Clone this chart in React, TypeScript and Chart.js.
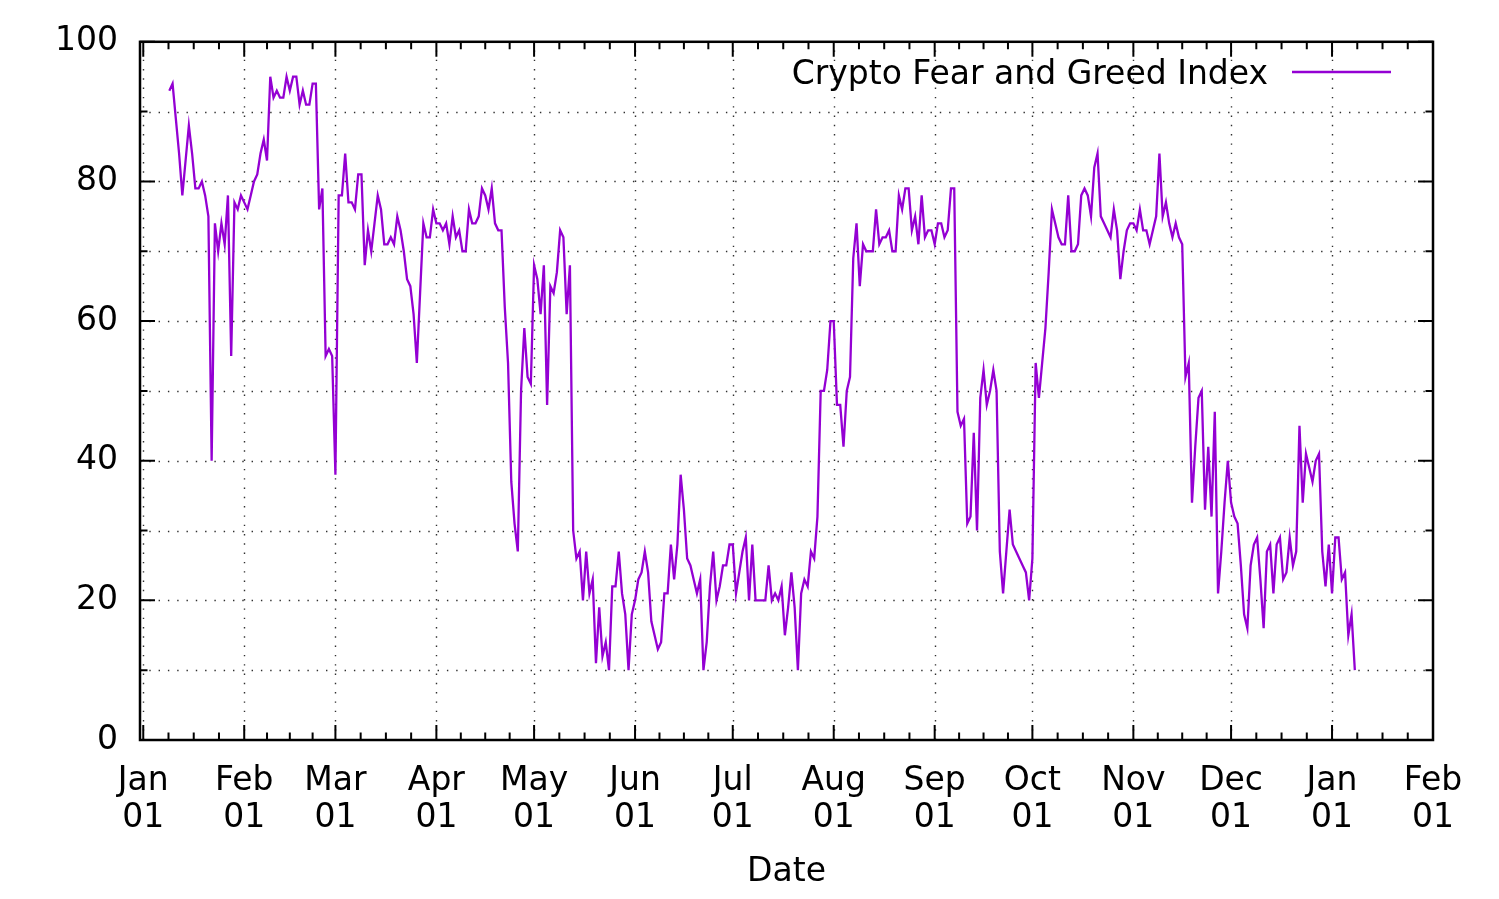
import React, { useEffect, useRef } from "react";
import { Chart, registerables } from "chart.js";

Chart.register(...registerables);

// Day index counted from Jan 01 (0). First reading is Jan 09.
const startDay = 8;
const fearGreed: number[] = [
  93, 94, 89, 84, 78, 83, 88, 84, 79, 79,
  80, 78, 75, 40, 74, 70, 74, 71, 78, 55,
  77, 76, 78, 77, 76, 78, 80, 81, 84, 86,
  83, 95, 92, 93, 92, 92, 95, 93, 95, 95,
  91, 93, 91, 91, 94, 94, 76, 79, 55, 56,
  55, 38, 78, 78, 84, 77, 77, 76, 81, 81,
  68, 73, 70, 74, 78, 76, 71, 71, 72, 71,
  75, 73, 70, 66, 65, 61, 54, 64, 74, 72,
  72, 76, 74, 74, 73, 74, 71, 75, 72, 73,
  70, 70, 76, 74, 74, 75, 79, 78, 76, 79,
  74, 73, 73, 62, 54, 37, 31, 27, 50, 59,
  52, 51, 68, 66, 61, 68, 48, 65, 64, 67,
  73, 72, 61, 68, 30, 26, 27, 20, 27, 21,
  23, 11, 19, 12, 14, 10, 22, 22, 27, 21,
  18, 10, 18, 20, 23, 24, 27, 24, 17, 15,
  13, 14, 21, 21, 28, 23, 28, 38, 33, 26,
  25, 23, 21, 23, 10, 14, 22, 27, 20, 22,
  25, 25, 28, 28, 21, 24, 27, 29, 20, 28,
  20, 20, 20, 20, 25, 20, 21, 20, 22, 15,
  19, 24, 19, 10, 21, 23, 22, 27, 26, 32,
  50, 50, 53, 60, 60, 48, 48, 42, 50, 52,
  69, 74, 65, 71, 70, 70, 70, 76, 71, 72,
  72, 73, 70, 70, 78, 76, 79, 79, 73, 75,
  71, 78, 72, 73, 73, 71, 74, 74, 72, 73,
  79, 79, 47, 45, 46, 31, 32, 44, 30, 49,
  53, 48, 50, 53, 50, 27, 21, 27, 33, 28,
  27, 26, 25, 24, 20, 26, 54, 49, 54, 59,
  67, 76, 74, 72, 71, 71, 78, 70, 70, 71,
  78, 79, 78, 75, 82, 84, 75, 74, 73, 72,
  76, 73, 66, 70, 73, 74, 74, 73, 76, 73,
  73, 71, 73, 75, 84, 75, 77, 74, 72, 74,
  72, 71, 52, 54, 34, 42, 49, 50, 33, 42,
  32, 47, 21, 27, 34, 40, 34, 32, 31, 25,
  18, 16, 25, 28, 29, 23, 16, 27, 28, 21,
  28, 29, 23, 24, 29, 25, 27, 45, 34, 41,
  39, 37, 40, 41, 27, 22, 28, 21, 29, 29,
  23, 24, 15, 18, 10,
];

const monthStarts = [0, 31, 59, 90, 120, 151, 181, 212, 243, 273, 304, 334, 365, 396];
const monthNames = ["Jan", "Feb", "Mar", "Apr", "May", "Jun", "Jul", "Aug", "Sep", "Oct", "Nov", "Dec", "Jan", "Feb"];
const dayLabel = "01";
const yTickValues = [0, 20, 40, 60, 80, 100];
const yGridValues = [10, 20, 30, 40, 50, 60, 70, 80, 90];
const seriesLabel = "Crypto Fear and Greed Index";
const xTitle = "Date";

const FONT = "'DejaVu Sans', 'Liberation Sans', sans-serif";
const FONT_SIZE = 33;
const PURPLE = "#9400d3";

const gnuplotFrame = {
  id: "gnuplotFrame",
  beforeDatasetsDraw(chart: any) {
    const { ctx, chartArea: a, scales } = chart;
    const x = scales.x;
    const y = scales.y;
    ctx.save();
    ctx.strokeStyle = "#303030";
    ctx.lineWidth = 1.4;
    ctx.setLineDash([1.4, 7.9]);
    for (const v of yGridValues) {
      const py = Math.round(y.getPixelForValue(v)) + 0.5;
      ctx.beginPath();
      ctx.moveTo(a.left, py);
      ctx.lineTo(a.right, py);
      ctx.stroke();
    }
    for (const m of monthStarts) {
      const px = Math.round(x.getPixelForValue(m)) + 0.5;
      if (px <= a.left + 2 || px >= a.right - 2) continue;
      ctx.beginPath();
      ctx.moveTo(px, a.bottom);
      ctx.lineTo(px, a.top);
      ctx.stroke();
    }
    ctx.restore();
  },
  afterDatasetsDraw(chart: any) {
    const { ctx, chartArea: a, scales } = chart;
    const x = scales.x;
    const y = scales.y;
    const major = 15;
    const minor = 7.5;
    ctx.save();
    ctx.strokeStyle = "#000";
    ctx.lineWidth = 2;
    ctx.setLineDash([]);
    const vt = (px: number, len: number) => {
      ctx.beginPath();
      ctx.moveTo(px, a.bottom);
      ctx.lineTo(px, a.bottom - len);
      ctx.moveTo(px, a.top);
      ctx.lineTo(px, a.top + len);
      ctx.stroke();
    };
    const ht = (py: number, len: number) => {
      ctx.beginPath();
      ctx.moveTo(a.left, py);
      ctx.lineTo(a.left + len, py);
      ctx.moveTo(a.right, py);
      ctx.lineTo(a.right - len, py);
      ctx.stroke();
    };
    for (let i = 0; i < monthStarts.length; i++) {
      const m = monthStarts[i];
      vt(x.getPixelForValue(m), major);
      if (i < monthStarts.length - 1) {
        const len = monthStarts[i + 1] - m;
        for (let k = 1; k < 4; k++) vt(x.getPixelForValue(m + (len * k) / 4), minor);
      }
    }
    for (let v = 0; v <= 100; v += 10) {
      ht(y.getPixelForValue(v), v % 20 === 0 ? major : minor);
    }
    ctx.lineWidth = 2.5;
    ctx.strokeRect(a.left, a.top, a.right - a.left, a.bottom - a.top);
    ctx.restore();
  },
  afterDraw(chart: any) {
    const { ctx, chartArea: a } = chart;
    ctx.save();
    ctx.fillStyle = "#000";
    ctx.font = `${FONT_SIZE}px ${FONT}`;
    ctx.textBaseline = "middle";
    ctx.textAlign = "center";
    ctx.fillText(xTitle, (a.left + a.right) / 2, 872);
    ctx.textAlign = "right";
    ctx.fillText(seriesLabel, 1268, 75);
    ctx.strokeStyle = PURPLE;
    ctx.lineWidth = 2.3;
    ctx.beginPath();
    ctx.moveTo(1292, 72);
    ctx.lineTo(1391, 72);
    ctx.stroke();
    ctx.restore();
  },
};

export default function App() {
  const canvasRef = useRef<HTMLCanvasElement | null>(null);

  useEffect(() => {
    document.body.style.margin = "0";
    const canvas = canvasRef.current;
    if (!canvas) return;
    const points = fearGreed.map((v, i) => ({ x: startDay + i, y: v }));
    const chart = new Chart(canvas, {
      type: "line",
      data: {
        datasets: [
          {
            label: seriesLabel,
            data: points,
            borderColor: PURPLE,
            backgroundColor: PURPLE,
            borderWidth: 2.3,
            pointRadius: 0,
            tension: 0,
            fill: false,
          },
        ],
      },
      options: {
        animation: false,
        responsive: false,
        maintainAspectRatio: false,
        layout: { padding: { left: 0, right: 66, top: 39, bottom: 0 } },
        plugins: {
          legend: { display: false },
          tooltip: { enabled: false },
        },
        scales: {
          x: {
            type: "linear",
            min: -1,
            max: 396,
            grid: { display: false, drawTicks: false },
            border: { display: false },
            afterBuildTicks: (s: any) => {
              s.ticks = monthStarts.map((v) => ({ value: v }));
            },
            afterFit: (s: any) => {
              s.height = 159;
            },
            ticks: {
              autoSkip: false,
              maxRotation: 0,
              minRotation: 0,
              padding: 23,
              color: "#000",
              font: { family: FONT, size: FONT_SIZE, lineHeight: 1.12 },
              callback: (value: any) => {
                const idx = monthStarts.indexOf(Number(value));
                return idx >= 0 ? [monthNames[idx], dayLabel] : "";
              },
            },
          },
          y: {
            min: 0,
            max: 100,
            grid: { display: false, drawTicks: false },
            border: { display: false },
            afterBuildTicks: (s: any) => {
              s.ticks = yTickValues.map((v) => ({ value: v }));
            },
            afterFit: (s: any) => {
              s.width = 140;
            },
            ticks: {
              padding: 22,
              color: "#000",
              font: { family: FONT, size: FONT_SIZE },
            },
          },
        },
      },
      plugins: [gnuplotFrame],
    } as any);
    return () => chart.destroy();
  }, []);

  return (
    <div style={{ position: "absolute", left: 0, top: 0, width: 1499, height: 899, background: "#fff" }}>
      <canvas ref={canvasRef} width={1499} height={899} style={{ width: 1499, height: 899 }} />
    </div>
  );
}
